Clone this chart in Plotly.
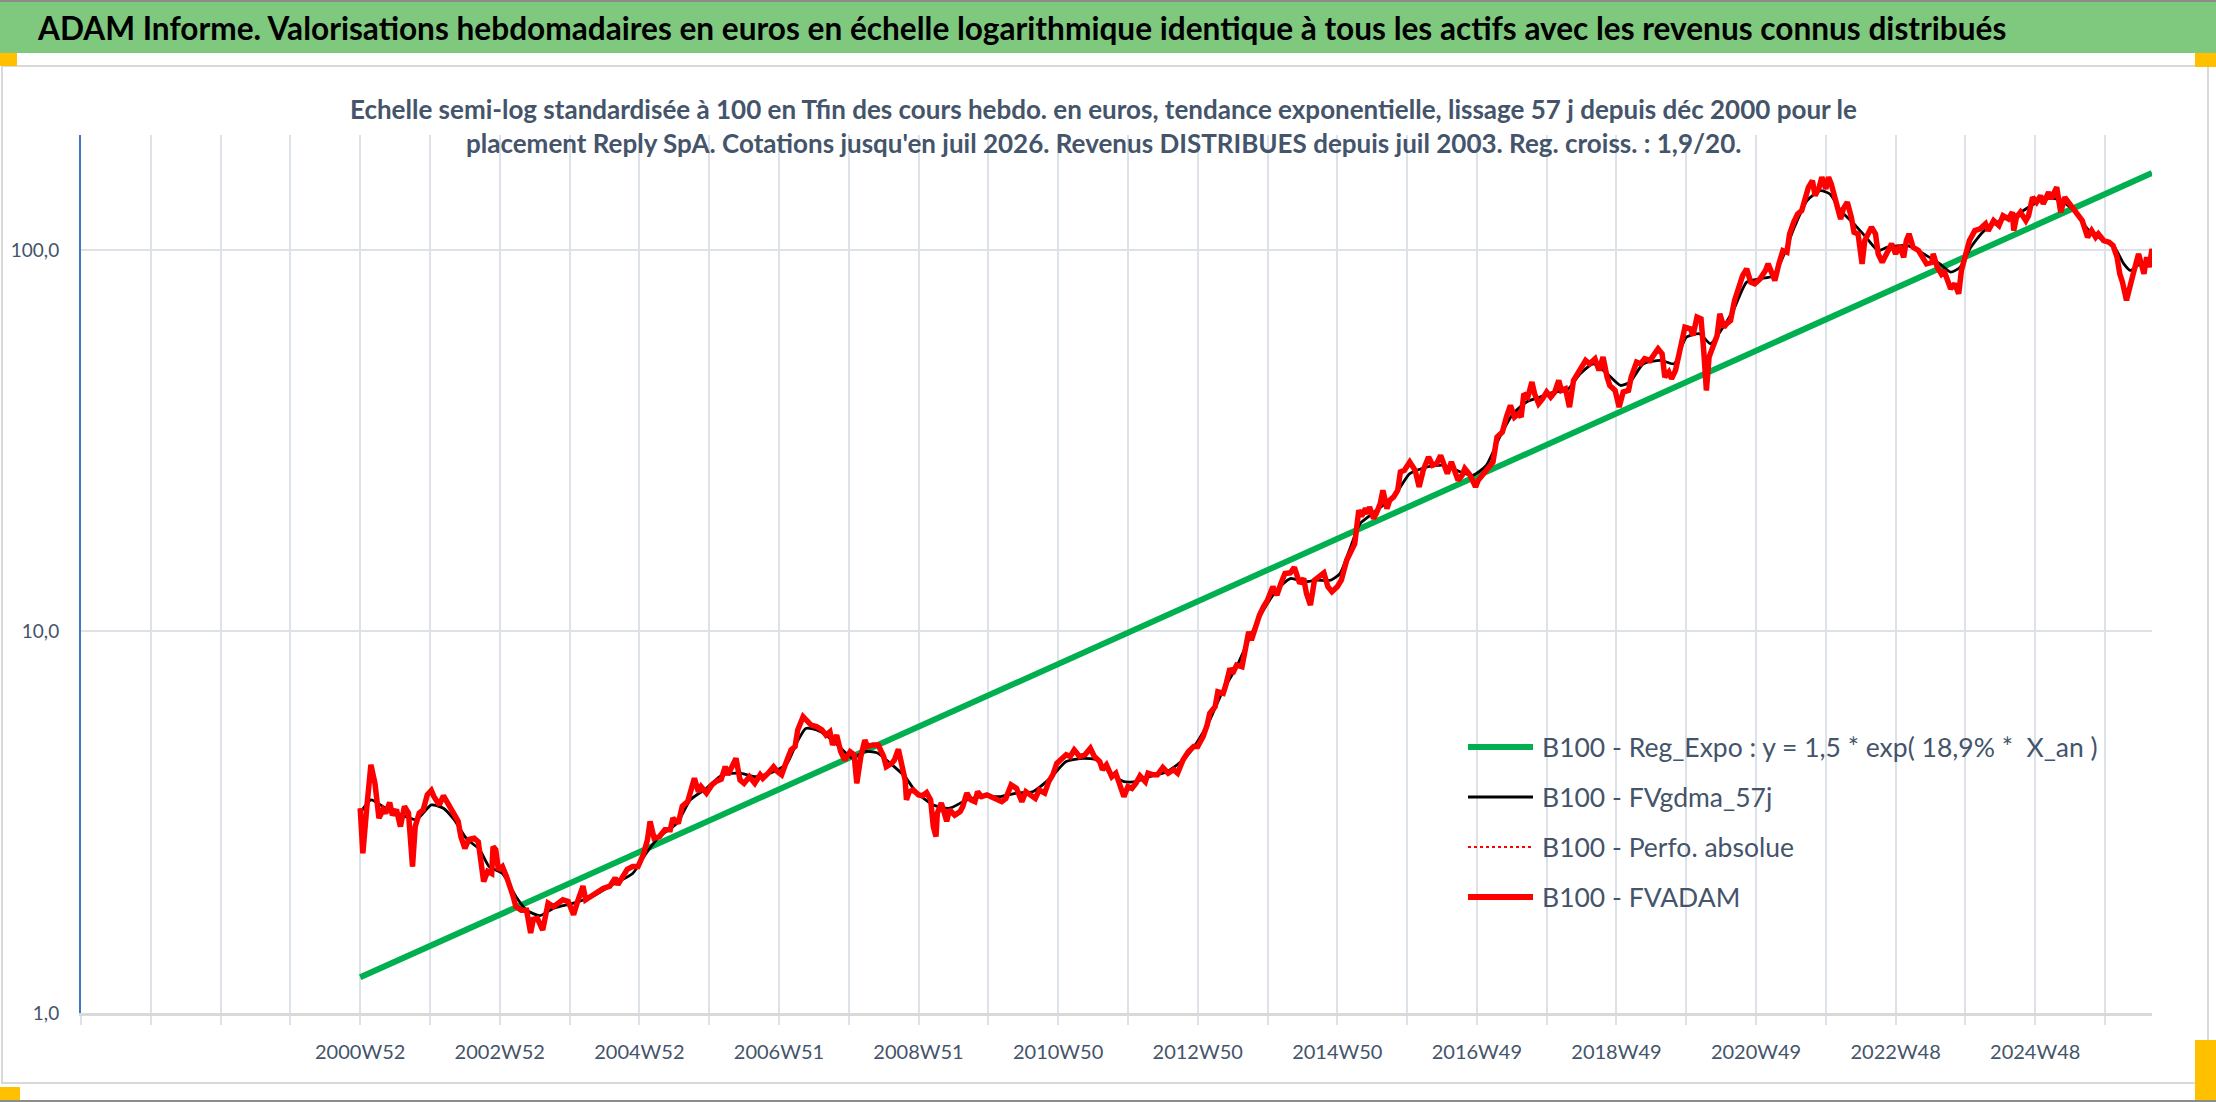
import plotly.graph_objects as go

# Axe x : semaines comptées depuis 2000W52 (catégories hebdo du classeur)
tick_weeks = [0, 104, 208, 312, 416, 520, 624, 728, 832, 936, 1040, 1144, 1248]
tick_labels = ['2000W52', '2002W52', '2004W52', '2006W51', '2008W51', '2010W50', '2012W50',
               '2014W50', '2016W49', '2018W49', '2020W49', '2022W48', '2024W48']

y_ticks = [1, 10, 100]
y_labels = ['1,0', '10,0', '100,0']

# B100 - Reg_Expo (droite en semi-log : debut / fin)
reg_weeks = [0, 1335]
reg_values = [1.24, 159.0]

# B100 - FVADAM (cours hebdo base 100)
fv_weeks = [
    0, 1, 2, 5, 8, 11, 14, 17, 19, 22, 24, 27, 30, 33, 36, 39, 41, 44, 47, 50,
    53, 55, 59, 62, 65, 69, 73, 75, 78, 81, 85, 88, 90, 92, 95, 98, 99, 101, 103, 106,
    109, 111, 114, 116, 120, 124, 127, 129, 132, 136, 140, 144, 147, 151, 155, 159, 162, 166, 168, 172,
    176, 181, 186, 190, 192, 196, 199, 203, 207, 211, 214, 216, 219, 223, 227, 231, 233, 237, 240, 244,
    247, 249, 252, 254, 258, 262, 265, 269, 272, 274, 277, 280, 283, 286, 290, 294, 298, 300, 304, 308,
    311, 314, 318, 321, 324, 326, 330, 332, 336, 340, 344, 347, 350, 352, 355, 358, 361, 365, 368, 370,
    373, 376, 378, 382, 386, 390, 392, 396, 398, 401, 403, 406, 407, 409, 412, 416, 419, 422, 425, 427,
    429, 430, 433, 437, 439, 443, 447, 449, 452, 455, 458, 460, 463, 467, 470, 474, 478, 481, 485, 489,
    493, 496, 500, 503, 506, 510, 513, 516, 519, 522, 526, 529, 532, 536, 540, 544, 547, 551, 553, 556,
    560, 563, 566, 569, 572, 575, 578, 581, 585, 587, 591, 594, 598, 602, 606, 609, 613, 617, 621, 624,
    628, 631, 633, 637, 639, 643, 645, 648, 650, 653, 657, 659, 662, 664, 667, 670, 673, 676, 680, 683,
    686, 689, 693, 696, 700, 703, 705, 708, 711, 715, 718, 721, 724, 728, 731, 735, 739, 741, 744, 746,
    749, 751,
    752, 755, 757, 760, 762, 765, 767, 770, 773, 775, 778, 782, 786, 789, 792, 796, 799, 802, 805, 808,
    810, 813, 816, 818, 821, 823, 827, 831, 833, 837, 841, 844, 847, 851, 854, 857, 860, 863, 865, 867,
    870, 873, 875, 878, 881, 884, 887, 890, 893, 895, 898, 901, 904, 907, 910, 913, 916, 920, 923, 926,
    929, 931, 935, 938, 941, 945, 947, 951, 954, 957, 961, 964, 967, 970, 972, 975, 977, 980, 982, 985,
    987, 991, 993, 996, 999, 1001, 1003, 1005, 1008, 1011, 1013, 1016, 1018, 1021, 1024, 1027, 1030, 1033, 1036, 1039,
    1043, 1047, 1049, 1052, 1054, 1057, 1060, 1063, 1065, 1068, 1071, 1074, 1077, 1079, 1082, 1084, 1087, 1089, 1092, 1094,
    1096, 1098, 1101, 1103, 1105, 1108, 1111, 1113, 1116, 1119, 1121, 1124, 1126, 1129, 1131,
    1134, 1138, 1141, 1144, 1147, 1150, 1152, 1154, 1157, 1161, 1164, 1167, 1171, 1172, 1175, 1178, 1180, 1183, 1185, 1188,
    1191, 1193, 1196, 1199, 1203, 1207, 1211, 1213, 1217, 1221, 1224, 1228, 1231, 1232, 1234, 1237, 1241, 1243, 1246, 1249,
    1252, 1254, 1258, 1260, 1264, 1267, 1270, 1273, 1276, 1280, 1283, 1287, 1290, 1293, 1295, 1299, 1303, 1306, 1309, 1311,
    1313, 1316, 1319, 1321, 1325, 1329, 1331, 1333, 1335,
]
fv_values = [
    3.44, 2.73, 2.62, 3.48, 4.47, 4.00, 3.24, 3.41, 3.34, 3.56, 3.30, 3.41, 3.08, 3.48, 3.34, 2.42, 3.08, 3.34, 3.41, 3.73,
    3.83, 3.69, 3.51, 3.71, 3.55, 3.34, 3.18, 2.90, 2.70, 2.85, 2.87, 2.81, 2.52, 2.21, 2.35, 2.32, 2.73, 2.68, 2.37, 2.42,
    2.28, 2.19, 2.02, 1.90, 1.86, 1.86, 1.62, 1.76, 1.77, 1.65, 1.94, 1.90, 1.94, 1.98, 1.96, 1.81, 1.96, 2.15, 1.98, 2.02,
    2.06, 2.12, 2.15, 2.26, 2.17, 2.30, 2.38, 2.42, 2.42, 2.60, 2.84, 3.18, 2.87, 2.90, 3.02, 3.02, 3.24, 3.14, 3.48, 3.58,
    3.92, 4.12, 3.80, 3.92, 3.77, 3.96, 4.04, 4.10, 4.42, 4.21, 4.42, 4.65, 4.08, 4.00, 4.16, 4.00, 4.21, 4.12, 4.25, 4.42,
    4.29, 4.21, 4.60, 4.89, 4.99, 5.52, 5.98, 5.86, 5.68, 5.63, 5.52, 5.35, 5.46, 5.04, 5.35, 4.84, 4.60, 4.84, 4.75, 4.00,
    4.70, 5.19, 4.99, 5.04, 5.04, 4.70, 4.42, 4.51, 4.60, 4.91, 4.60, 4.08, 3.62, 3.80, 3.84, 3.73, 3.71, 3.78, 3.62, 3.08,
    2.90, 3.34, 3.55, 3.18, 3.41, 3.30, 3.37, 3.48, 3.77, 3.62, 3.58, 3.80, 3.69, 3.73, 3.69, 3.62, 3.58, 3.65, 3.96, 3.88,
    3.58, 3.80, 3.73, 3.65, 3.84, 3.77, 4.04, 4.21, 4.51, 4.60, 4.75, 4.70, 4.89, 4.70, 4.75, 4.94, 4.70, 4.56, 4.34, 4.47,
    4.16, 4.25, 3.92, 3.69, 3.92, 3.88, 4.00, 4.18, 4.04, 4.25, 4.21, 4.21, 4.40, 4.25, 4.34, 4.25, 4.60, 4.84, 4.99, 4.99,
    5.30, 5.68, 6.10, 6.35, 6.95, 6.88, 7.24, 8.00, 7.76, 8.16, 8.08, 8.93, 9.98, 9.49, 10.39, 11.03, 11.60, 12.08, 13.09, 12.45,
    13.36, 14.18, 14.24, 14.71, 13.36, 13.76, 12.58, 11.72, 13.62, 13.90, 14.24, 13.09, 12.70, 13.09, 13.62, 15.37, 16.66, 16.99, 20.78, 20.04,
    20.98, 20.36,
    21.20, 19.76, 20.36, 21.62, 23.43, 20.98, 22.06, 22.51, 23.43, 26.17, 26.44, 27.80, 26.44, 23.91, 26.44, 28.65, 27.25, 27.53, 28.94, 26.98,
    25.91, 27.80, 25.91, 24.89, 25.65, 26.71, 25.65, 23.91, 24.89, 25.91, 26.71, 27.80, 32.32, 33.31, 36.47, 39.13, 36.47, 37.21, 36.47, 41.97,
    41.14, 45.03, 41.97, 39.52, 40.72, 42.40, 41.14, 42.40, 45.49, 42.82, 43.25, 38.73, 45.49, 47.35, 48.80, 51.31, 50.29, 51.82, 48.31, 52.35,
    46.41, 44.12, 42.82, 38.73, 42.40, 42.82, 46.41, 50.80, 50.29, 51.82, 51.31, 52.88, 55.05, 53.41, 46.41, 47.82, 45.95, 48.31, 52.35, 59.65,
    62.71, 62.09, 59.65, 66.63, 65.96, 54.50, 42.82, 52.35, 55.61, 59.65, 67.98, 62.71, 63.99, 65.30, 73.66, 79.82, 85.64, 89.15, 82.29, 81.46,
    83.95, 88.26, 91.88, 86.50, 83.11, 91.88, 99.57, 98.58, 110.1, 118.1, 124.2, 126.7, 137.3, 145.8, 151.8, 138.7, 145.8, 155.0, 144.4, 155.0,
    148.8, 140.1, 124.2, 120.5, 128.0, 133.3, 121.7, 111.2, 110.1, 91.88, 105.8, 110.1, 114.6, 110.1, 97.6,
    92.8, 99.6, 103.7, 97.6, 102.6, 95.6, 105.8, 110.1, 101.6, 99.6, 95.6, 91.9, 92.8, 97.6, 90.1, 86.5, 88.3, 81.5, 79.0, 81.5,
    76.7, 88.3, 97.6, 105.8, 112.3, 113.5, 117.0, 112.3, 119.3, 115.8, 122.9, 120.5, 125.5, 112.3, 121.7, 125.5, 119.3, 122.9, 137.3, 133.3,
    138.7, 131.9, 141.6, 136.0, 145.9, 125.5, 137.3, 133.3, 129.3, 124.2, 119.3, 107.9, 112.3, 107.9, 110.1, 105.8, 104.7, 102.6, 95.6, 86.5,
    82.3, 73.7, 79.8, 86.5, 97.6, 86.5, 95.6, 90.1, 100.6,
]

# B100 - FVgdma_57j (lissage)
ma_weeks = [
    0, 8, 19, 34, 42, 53, 62, 70, 79, 89, 96, 106, 116, 124, 134, 144, 159, 173, 188, 203,
    213, 223, 236, 246, 258, 270, 283, 295, 308, 318, 325, 332, 340, 347, 357, 367,
    375, 385, 395, 406, 414, 427, 439, 452, 464, 477, 489, 501, 514, 526, 539, 549, 559, 569, 578, 588,
    601, 613, 623, 633, 643, 653, 663, 673, 683, 693, 703, 713, 723, 730, 737, 745, 751,
    757, 770, 782, 795, 807, 820, 829, 839, 849, 859, 869, 879, 889, 899, 909, 919, 929, 939, 946, 956,
    969, 979, 988, 998, 1006, 1013, 1023, 1033, 1043, 1053, 1061, 1068, 1078, 1088, 1095, 1103, 1113, 1123, 1131,
    1138, 1153, 1167, 1177, 1185, 1192, 1200, 1210, 1222, 1235, 1247, 1257, 1267, 1277, 1287, 1297, 1307, 1314, 1319, 1326,
    1334,
]
ma_values = [
    3.34, 3.62, 3.44, 3.27, 3.21, 3.51, 3.44, 3.21, 2.87, 2.68, 2.42, 2.32, 2.02, 1.86, 1.80, 1.88, 1.94, 2.02, 2.17, 2.32,
    2.62, 2.90, 3.14, 3.62, 3.88, 4.21, 4.25, 4.16, 4.29, 4.51, 5.09, 5.57, 5.52, 5.35, 4.99, 4.65,
    4.84, 4.81, 4.51, 4.16, 3.80, 3.51, 3.44, 3.62, 3.69, 3.69, 3.77, 3.80, 4.12, 4.56, 4.65, 4.60, 4.25, 4.04, 4.04, 4.16,
    4.29, 4.60, 5.09, 5.86, 7.02, 8.08, 9.68, 11.37, 12.83, 13.76, 13.49, 13.62, 13.62, 14.18, 16.33, 19.17, 19.96,
    20.77, 22.51, 25.91, 26.98, 27.25, 26.17, 25.65, 27.25, 32.32, 37.21, 39.92, 41.14, 42.40, 42.82, 47.35, 50.29, 47.35, 44.12, 45.03, 50.29,
    51.31, 50.29, 59.05, 60.26, 56.74, 60.86, 69.36, 82.29, 83.95, 85.64, 97.6, 113.4, 134.6, 142.9, 140.1, 126.7, 117.0, 106.8, 99.57,
    101.6, 102.6, 96.6, 91.9, 87.4, 90.1, 101.6, 112.3, 119.3, 124.2, 131.9, 137.3, 134.6, 126.7, 113.5, 106.8, 101.6, 91.9, 88.3, 91.9,
    92.8,
]

series_names = [
    'B100 - Reg_Expo : y = 1,5 * exp( 18,9% *\u00a0 X_an )',
    'B100 - FVgdma_57j',
    'B100 - Perfo. absolue',
    'B100 - FVADAM',
]

title_text = ('ADAM Informe. Valorisations hebdomadaires en euros en échelle logarithmique '
              'identique à tous les actifs avec les revenus connus distribués')
subtitle_lines = [
    'Echelle semi-log standardisée à 100 en Tfin des cours hebdo. en euros, tendance exponentielle, '
    'lissage 57 j depuis déc 2000 pour le',
    "placement Reply SpA. Cotations jusqu'en juil 2026. Revenus DISTRIBUES depuis juil 2003. Reg. croiss. : 1,9/20.",
]

FONT = 'Lato'
SLATE = '#44546A'
GRID = '#DDE2E9'
W, H = 2216, 1102
L, R, T, B = 81, 2152, 135, 1013


def px(x):
    return (x - L) / (R - L)


def py(y):
    return (B - y) / (B - T)


fig = go.Figure()
fig.add_trace(go.Scatter(x=reg_weeks, y=reg_values, mode='lines', name=series_names[0],
                         line=dict(color='#00B050', width=6)))
fig.add_trace(go.Scatter(x=ma_weeks, y=ma_values, mode='lines', name=series_names[1],
                         line=dict(color='black', width=2.8, shape='spline', smoothing=0.6)))
fig.add_trace(go.Scatter(x=fv_weeks, y=fv_values, mode='lines', name=series_names[2],
                         line=dict(color='#FF0000', width=2, dash='dot')))
fig.add_trace(go.Scatter(x=fv_weeks, y=fv_values, mode='lines', name=series_names[3],
                         line=dict(color='#FF0000', width=5.5)))

grid_weeks = list(range(-208, 1301, 52))
grid_text = [tick_labels[tick_weeks.index(g)] if g in tick_weeks else '' for g in grid_weeks]

shapes = [
    # bandeau vert du titre
    dict(type='rect', xref='paper', yref='paper', x0=px(0), x1=px(W), y0=py(53), y1=py(2),
         fillcolor='#7EC97E', line=dict(width=0), layer='below'),
    dict(type='rect', xref='paper', yref='paper', x0=px(0), x1=px(W), y0=py(2), y1=py(0),
         fillcolor='#8C8C8C', line=dict(width=0)),
    dict(type='rect', xref='paper', yref='paper', x0=px(0), x1=px(W), y0=py(H), y1=py(H - 2),
         fillcolor='#8C8C8C', line=dict(width=0)),
    # cadre du graphique
    dict(type='rect', xref='paper', yref='paper', x0=px(2), x1=px(2208), y0=py(1083), y1=py(66),
         line=dict(color='#D9D9D9', width=2)),
    # poignées orange
    dict(type='rect', xref='paper', yref='paper', x0=px(0), x1=px(17), y0=py(66), y1=py(53),
         fillcolor='#FFC000', line=dict(width=0)),
    dict(type='rect', xref='paper', yref='paper', x0=px(2195), x1=px(W), y0=py(67), y1=py(53),
         fillcolor='#FFC000', line=dict(width=0)),
    dict(type='rect', xref='paper', yref='paper', x0=px(0), x1=px(20), y0=py(1100), y1=py(1087),
         fillcolor='#FFC000', line=dict(width=0)),
    dict(type='rect', xref='paper', yref='paper', x0=px(2195), x1=px(W), y0=py(1100), y1=py(1040),
         fillcolor='#FFC000', line=dict(width=0)),
]

annotations = [
    dict(text=title_text, xref='paper', yref='paper', x=px(35), y=py(28), xanchor='left', yanchor='middle',
         showarrow=False, font=dict(family=FONT, size=31.6, color='black', weight='bold')),
]
for i, line in enumerate(subtitle_lines):
    annotations.append(dict(text=line, xref='paper', yref='paper', x=px(1103), y=py(109 + 34 * i),
                            xanchor='center', yanchor='middle', showarrow=False,
                            font=dict(family=FONT, size=26, color=SLATE, weight='bold')))

# légende dessinée à la main (échantillons longs comme dans Excel)
legend_styles = [
    dict(color='#00B050', width=6),
    dict(color='black', width=3),
    dict(color='#FF0000', width=2, dash='dot'),
    dict(color='#FF0000', width=6),
]
for i, (name, st) in enumerate(zip(series_names, legend_styles)):
    yy = 747 + 50 * i
    shapes.append(dict(type='line', xref='paper', yref='paper', x0=px(1468), x1=px(1533),
                       y0=py(yy), y1=py(yy), line=st))
    annotations.append(dict(text=name, xref='paper', yref='paper', x=px(1540), y=py(yy),
                            xanchor='left', yanchor='middle', showarrow=False,
                            font=dict(family=FONT, size=26.5, color=SLATE)))

fig.update_layout(
    width=W, height=H,
    margin=dict(l=L, r=W - R, t=T, b=H - B),
    paper_bgcolor='white', plot_bgcolor='white',
    showlegend=False,
    shapes=shapes,
    annotations=annotations,
    xaxis=dict(
        range=[-208, 1335], tickmode='array', tickvals=grid_weeks, ticktext=grid_text,
        showgrid=True, gridcolor=GRID, gridwidth=2,
        showline=True, linecolor='#D9D9D9', linewidth=3,
        ticks='outside', ticklen=9, tickcolor=GRID, tickwidth=2,
        ticklabelstandoff=10,
        tickfont=dict(family=FONT, size=20, color=SLATE),
        zeroline=False,
    ),
    yaxis=dict(
        type='log', range=[0, 2.301], tickmode='array', tickvals=y_ticks, ticktext=y_labels,
        showgrid=True, gridcolor=GRID, gridwidth=2,
        showline=True, linecolor='#4472C4', linewidth=2,
        ticks='', ticklabelstandoff=16,
        tickfont=dict(family=FONT, size=19, color=SLATE),
        zeroline=False,
    ),
)

# la page a une marge de 8 px par défaut : on la retire pour caler la figure sur la fenêtre
fig.write_html('out.html', config={'displayModeBar': False},
               post_script="document.body.style.margin='0';")
